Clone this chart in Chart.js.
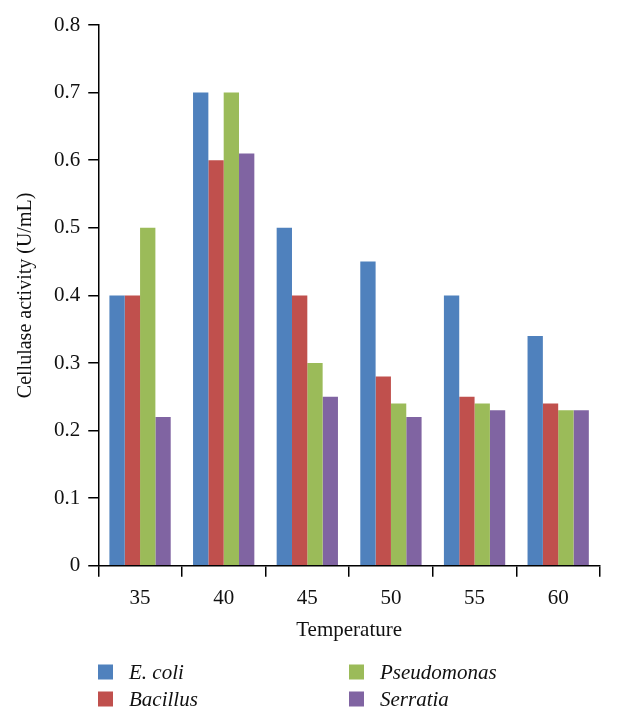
<!DOCTYPE html>
<html>
<head>
<meta charset="utf-8">
<script src="https://cdn.jsdelivr.net/npm/chart.js@4.4.1/dist/chart.umd.min.js"></script>
<style>
  html,body{margin:0;padding:0;background:#fff;}
  #wrap{width:632px;height:720px;position:relative;}
</style>
</head>
<body>
<div id="wrap"><canvas id="chart" width="632" height="720"></canvas></div>
<script>
// Data
const temperatures = ['35','40','45','50','55','60'];
const seriesNames = ['E. coli','Bacillus','Pseudomonas','Serratia'];
const ecoli       = [0.40, 0.70, 0.50, 0.45, 0.40, 0.34];
const bacillus    = [0.40, 0.60, 0.40, 0.28, 0.25, 0.24];
const pseudomonas = [0.50, 0.70, 0.30, 0.24, 0.24, 0.23];
const serratia    = [0.22, 0.61, 0.25, 0.22, 0.23, 0.23];
const yTicks = [0, 0.1, 0.2, 0.3, 0.4, 0.5, 0.6, 0.7, 0.8];

const colors = ['#4F81BD','#C0504D','#9BBB59','#8064A2'];
const serif = '"Liberation Serif", "DejaVu Serif", serif';

// Two-column legend under the axis title
const legendBelow = {
  id:'legendBelow',
  afterDraw(chart){
    const c = chart.ctx;
    const cols = [98, 349];
    const rows = [672, 699];
    c.save();
    c.font = 'italic 21px ' + serif;
    c.textBaseline = 'middle';
    chart.data.datasets.forEach((ds, i)=>{
      const x = cols[Math.floor(i/2)];
      const y = rows[i%2];
      c.fillStyle = ds.backgroundColor;
      c.fillRect(x, y-7.5, 15, 15);
      c.fillStyle = '#111';
      c.fillText(ds.label, x+31, y+1);
    });
    c.restore();
  }
};

const series = [ecoli, bacillus, pseudomonas, serratia];

new Chart(document.getElementById('chart'), {
  type:'bar',
  data:{
    labels: temperatures,
    datasets: series.map((d,i)=>({
      label: seriesNames[i],
      data: d,
      backgroundColor: colors[i],
      borderWidth: 0,
      categoryPercentage: 0.733,
      barPercentage: 1.0
    }))
  },
  options:{
    responsive:false,
    animation:false,
    layout:{padding:{top:25, right:32, bottom:75, left:10}},
    plugins:{legend:{display:false}, tooltip:{enabled:false}},
    scales:{
      x:{
        grid:{display:true, drawOnChartArea:false, color:'#000', tickLength:11, offset:true, lineWidth:1.5},
        border:{color:'#000', width:1.5},
        ticks:{color:'#111', font:{family:serif, size:21}, padding:9},
        title:{display:true, text:'Temperature', color:'#111', font:{family:serif, size:21, lineHeight:1}, padding:{top:0}}
      },
      y:{
        min:0, max:0.8,
        afterBuildTicks(axis){ axis.ticks = yTicks.map(v=>({value:v})); },
        grid:{display:true, drawOnChartArea:false, color:'#000', tickLength:10, lineWidth:1.5},
        border:{color:'#000', width:1.5},
        ticks:{color:'#111', font:{family:serif, size:21}, padding:8,
          callback:v=> v===0 ? '0' : v.toFixed(1)},
        title:{display:true, text:'Cellulase activity (U/mL)', color:'#111', font:{family:serif, size:20}, padding:{bottom:8}}
      }
    }
  },
  plugins:[legendBelow]
});
</script>
</body>
</html>
